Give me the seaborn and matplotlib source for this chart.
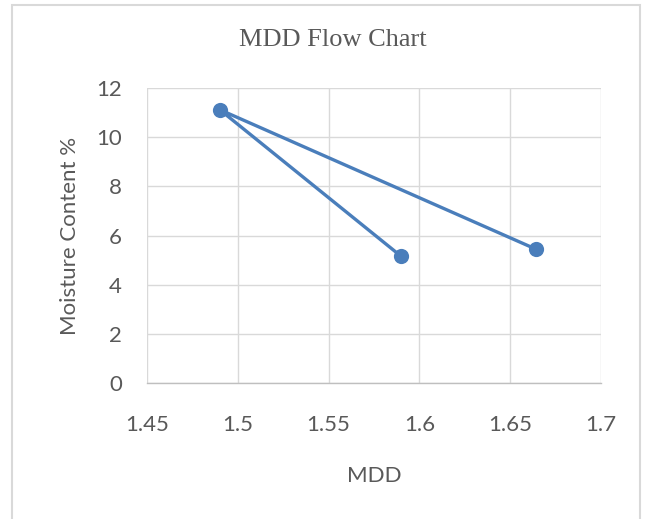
import matplotlib
matplotlib.use("Agg")
import matplotlib.pyplot as plt
import seaborn as sns
import pandas as pd
from matplotlib.patches import Rectangle

mdd = [1.59, 1.49, 1.664]
moisture = [5.15, 11.12, 5.45]
xticks = [1.45, 1.5, 1.55, 1.6, 1.65, 1.7]
yticks = [0, 2, 4, 6, 8, 10, 12]

df = pd.DataFrame({"MDD": mdd, "Moisture": moisture})

sns.set_theme(style="white")
plt.rcParams['font.family'] = ['Lato', 'DejaVu Sans']

fig = plt.figure(figsize=(6.49, 5.19), dpi=100)
ax = fig.add_axes([147/649, 1-383/519, (601-147)/649, (383-88)/519])

blue = "#4A7EBB"
sns.lineplot(data=df, x="MDD", y="Moisture", sort=False, color=blue, linewidth=2.4, ax=ax, estimator=None)
sns.scatterplot(data=df, x="MDD", y="Moisture", color=blue, s=120, edgecolor=blue, linewidth=0, ax=ax, zorder=5)

ax.set_xlim(1.45, 1.7)
ax.set_ylim(0, 12)
ax.set_xticks(xticks)
ax.set_xticklabels([f"{t:g}" for t in xticks])
ax.set_yticks(yticks)
ax.set_yticklabels([str(t) for t in yticks])
ax.grid(True, color="#D9D9D9", linewidth=1.0)
ax.set_axisbelow(True)
for s in ["top", "right", "left"]:
    ax.spines[s].set_visible(False)
ax.spines["bottom"].set_color("#BFBFBF")
ax.spines["bottom"].set_linewidth(1.0)
ax.tick_params(axis="both", length=0, labelsize=16, colors="#595959")
ax.tick_params(axis="x", pad=23)
ax.tick_params(axis="y", pad=18)

ax.set_xlabel("MDD", fontsize=16, color="#595959", labelpad=22)
ax.set_ylabel("Moisture Content %", fontsize=16, color="#595959", labelpad=12)

fig.text(333/649, 1-40/519, "MDD Flow Chart", ha="center", va="center",
         fontsize=19, color="#595959", family="Liberation Serif")

fig.patches.append(Rectangle((12/649, -0.05), (640-12)/649, 1.05-5/519,
                             transform=fig.transFigure, fill=False,
                             edgecolor="#D9D9D9", linewidth=1.5))

fig.savefig("out.png", dpi=100, facecolor="white")
